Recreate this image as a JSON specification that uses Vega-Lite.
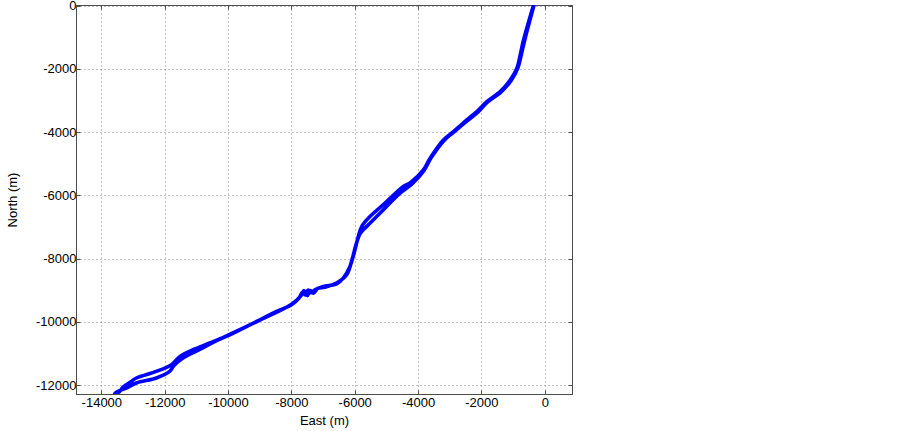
{
  "$schema": "https://vega.github.io/schema/vega-lite/v6.json",
  "autosize": {"type": "none"},
  "padding": {"left": 76, "top": 5, "right": 330, "bottom": 37},
  "width": 496,
  "height": 389,
  "background": "white",
  "config": {
    "view": {"stroke": "#4d4d4d", "strokeWidth": 1},
    "font": "Liberation Sans",
    "axis": {
      "labelFont": "Liberation Sans",
      "titleFont": "Liberation Sans",
      "labelFontSize": 13,
      "titleFontSize": 13,
      "titleFontWeight": "normal",
      "labelColor": "#000000",
      "titleColor": "#000000",
      "domainColor": "#4d4d4d",
      "tickColor": "#4d4d4d",
      "gridColor": "#808080",
      "gridDash": [1, 3],
      "gridOpacity": 1
    }
  },
  "data": {
    "values": [
      {"i": 1, "east": -360, "north": 0},
      {"i": 2, "east": -670, "north": -1084},
      {"i": 3, "east": -775, "north": -1558},
      {"i": 4, "east": -879, "north": -1978},
      {"i": 5, "east": -1091, "north": -2348},
      {"i": 6, "east": -1407, "north": -2718},
      {"i": 7, "east": -1828, "north": -3034},
      {"i": 8, "east": -2093, "north": -3297},
      {"i": 9, "east": -2460, "north": -3612},
      {"i": 10, "east": -2884, "north": -3982},
      {"i": 11, "east": -3200, "north": -4244},
      {"i": 12, "east": -3621, "north": -4822},
      {"i": 13, "east": -3832, "north": -5192},
      {"i": 14, "east": -4253, "north": -5603},
      {"i": 15, "east": -4465, "north": -5720},
      {"i": 16, "east": -5044, "north": -6244},
      {"i": 17, "east": -5518, "north": -6668},
      {"i": 18, "east": -5780, "north": -6984},
      {"i": 19, "east": -5888, "north": -7300},
      {"i": 20, "east": -5992, "north": -7720},
      {"i": 21, "east": -6150, "north": -8248},
      {"i": 22, "east": -6362, "north": -8614},
      {"i": 23, "east": -6571, "north": -8794},
      {"i": 24, "east": -6994, "north": -8880},
      {"i": 25, "east": -7257, "north": -8984},
      {"i": 26, "east": -7380, "north": -9080},
      {"i": 27, "east": -7470, "north": -8990},
      {"i": 28, "east": -7560, "north": -9150},
      {"i": 29, "east": -7650, "north": -9060},
      {"i": 30, "east": -7760, "north": -9250},
      {"i": 31, "east": -7994, "north": -9458},
      {"i": 32, "east": -8468, "north": -9670},
      {"i": 33, "east": -8996, "north": -9932},
      {"i": 34, "east": -9945, "north": -10406},
      {"i": 35, "east": -10577, "north": -10668},
      {"i": 36, "east": -11105, "north": -10880},
      {"i": 37, "east": -11516, "north": -11092},
      {"i": 38, "east": -11788, "north": -11354},
      {"i": 39, "east": -12262, "north": -11566},
      {"i": 40, "east": -12894, "north": -11774},
      {"i": 41, "east": -13052, "north": -11882},
      {"i": 42, "east": -13296, "north": -12049},
      {"i": 43, "east": -13476, "north": -12248},
      {"i": 44, "east": -13581, "north": -12264},
      {"i": 45, "east": -13423, "north": -12175},
      {"i": 46, "east": -13211, "north": -12090},
      {"i": 47, "east": -12894, "north": -11932},
      {"i": 48, "east": -12262, "north": -11774},
      {"i": 49, "east": -11842, "north": -11566},
      {"i": 50, "east": -11715, "north": -11385},
      {"i": 51, "east": -11421, "north": -11142},
      {"i": 52, "east": -10906, "north": -10880},
      {"i": 53, "east": -10294, "north": -10564},
      {"i": 54, "east": -8996, "north": -9947},
      {"i": 55, "east": -7994, "north": -9442},
      {"i": 56, "east": -7700, "north": -9180},
      {"i": 57, "east": -7600, "north": -9010},
      {"i": 58, "east": -7500, "north": -9170},
      {"i": 59, "east": -7400, "north": -9010},
      {"i": 60, "east": -7300, "north": -9090},
      {"i": 61, "east": -7170, "north": -8940},
      {"i": 62, "east": -6941, "north": -8905},
      {"i": 63, "east": -6561, "north": -8762},
      {"i": 64, "east": -6254, "north": -8510},
      {"i": 65, "east": -6087, "north": -8036},
      {"i": 66, "east": -5961, "north": -7562},
      {"i": 67, "east": -5834, "north": -7214},
      {"i": 68, "east": -5730, "north": -7088},
      {"i": 69, "east": -5464, "north": -6826},
      {"i": 70, "east": -5044, "north": -6402},
      {"i": 71, "east": -4569, "north": -5928},
      {"i": 72, "east": -4190, "north": -5634},
      {"i": 73, "east": -3810, "north": -5208},
      {"i": 74, "east": -3589, "north": -4813},
      {"i": 75, "east": -3178, "north": -4260},
      {"i": 76, "east": -2862, "north": -3991},
      {"i": 77, "east": -2451, "north": -3643},
      {"i": 78, "east": -2071, "north": -3327},
      {"i": 79, "east": -1818, "north": -3059},
      {"i": 80, "east": -1376, "north": -2727},
      {"i": 81, "east": -1059, "north": -2364},
      {"i": 82, "east": -854, "north": -1985},
      {"i": 83, "east": -743, "north": -1558},
      {"i": 84, "east": -632, "north": -1084},
      {"i": 85, "east": -348, "north": -10}
    ]
  },
  "resolve": {"axis": {"x": "independent", "y": "independent"}},
  "layer": [
    {
      "mark": {"type": "line", "color": "#0000ff", "strokeWidth": 3.6, "strokeJoin": "round", "strokeCap": "round", "interpolate": "catmull-rom", "clip": true},
      "encoding": {
        "x": {
          "field": "east", "type": "quantitative",
          "scale": {"domain": [-14800, 860], "nice": false, "zero": false},
          "axis": {
            "orient": "bottom", "title": "East (m)", "values": [-14000, -12000, -10000, -8000, -6000, -4000, -2000, 0],
            "labelExpr": "'' + datum.value", "grid": true, "tickSize": -4, "labelPadding": 6, "titlePadding": 5,
            "domain": true
          }
        },
        "y": {
          "field": "north", "type": "quantitative",
          "scale": {"domain": [-12280, 22], "nice": false, "zero": false},
          "axis": {
            "orient": "left", "title": "North (m)", "values": [0, -2000, -4000, -6000, -8000, -10000, -12000],
            "labelExpr": "'' + datum.value", "grid": true, "tickSize": -4, "labelPadding": 4, "titlePadding": 16,
            "domain": true
          }
        },
        "order": {"field": "i", "type": "quantitative"}
      }
    },
    {
      "mark": {"type": "line", "opacity": 0},
      "encoding": {
        "x": {
          "field": "east", "type": "quantitative",
          "axis": {"orient": "top", "title": null, "labels": false, "grid": false, "tickSize": -4, "values": [-14000, -12000, -10000, -8000, -6000, -4000, -2000, 0]}
        },
        "y": {
          "field": "north", "type": "quantitative",
          "axis": {"orient": "right", "title": null, "labels": false, "grid": false, "tickSize": -4, "values": [0, -2000, -4000, -6000, -8000, -10000, -12000]}
        },
        "order": {"field": "i", "type": "quantitative"}
      }
    }
  ]
}
